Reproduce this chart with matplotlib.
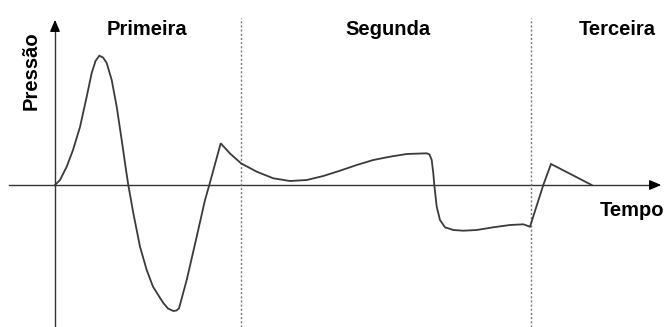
import numpy as np
import matplotlib
matplotlib.use("Agg")
import matplotlib.pyplot as plt

# Pressure trace (time, pressure in arbitrary units)
tempo = [0, 5, 11.7, 18, 25, 31.7, 36.7, 40.5, 44.3, 48, 51.7, 56.7, 61.7, 66.7, 71,
         73.3, 78.3, 85, 91.7, 98, 108.3, 113, 118.3, 121.5, 124, 131.7, 141.7, 150,
         154.3, 165.7, 175, 186, 201.7, 218.3, 235, 251.7, 268.3, 285, 301.7, 318.3,
         335, 351.7, 371.7, 374.5, 376.7, 378.3, 379.3, 381.7, 385, 390, 398.3, 408.3,
         421.7, 438.3, 455, 468.3, 475, 488.3, 496, 536.7]
pressao = [0, 5, 18.3, 35, 58, 88.3, 112, 124, 129.3, 127.5, 122, 105, 78.3, 45, 15,
           0, -28, -61.7, -85, -101.7, -118, -123.5, -126, -125.5, -123.3, -95, -51.7,
           -15, 0, 41.7, 31.5, 21.7, 13.3, 6.7, 4, 5, 9, 14.3, 20, 25, 28.3, 31, 31.7,
           30.5, 25, 11.7, 0, -21.7, -35, -42.3, -45, -45.7, -45, -42.3, -40, -39.3,
           -41.7, 0, 21, 0]

fases = ["Primeira", "Segunda", "Terceira"]
fase_x = [92, 332.5, 562.5]
limites = [186, 476]

fig = plt.figure(figsize=(6.65, 3.27), dpi=100)
ax = fig.add_axes([0, 0, 1, 1])
ax.set_xlim(-55, 610)
ax.set_ylim(-142, 185)
ax.axis("off")

font = {"family": ["Liberation Sans", "DejaVu Sans"], "weight": "bold", "size": 14.5}

# axes with arrows
ax.plot([-46, 600], [0, 0], color="#333333", lw=1.0)
ax.plot([0, 0], [-142, 160], color="#333333", lw=1.0)
ax.annotate("", xy=(609, 0), xytext=(598, 0),
            arrowprops=dict(arrowstyle="-|>,head_length=0.7,head_width=0.3",
                            color="black", lw=1.0))
ax.annotate("", xy=(0, 168), xytext=(0, 158),
            arrowprops=dict(arrowstyle="-|>,head_length=0.7,head_width=0.3",
                            color="black", lw=1.0))

# phase boundaries
for x in limites:
    ax.plot([x, x], [-142, 167], color="#777777", lw=1.0, ls=(0, (1.5, 1.5)))

ax.plot(tempo, pressao, color="#3a3a3a", lw=1.3, solid_joinstyle="miter")

for nome, x in zip(fases, fase_x):
    ax.text(x, 150, nome, ha="center", va="baseline", **font)

ax.text(577, -31, "Tempo", ha="center", va="baseline", **font)
ax.text(-18, 114, "Pressão", ha="center", va="baseline", rotation=90,
        rotation_mode="anchor", **font)

fig.savefig("out.png", dpi=100)
